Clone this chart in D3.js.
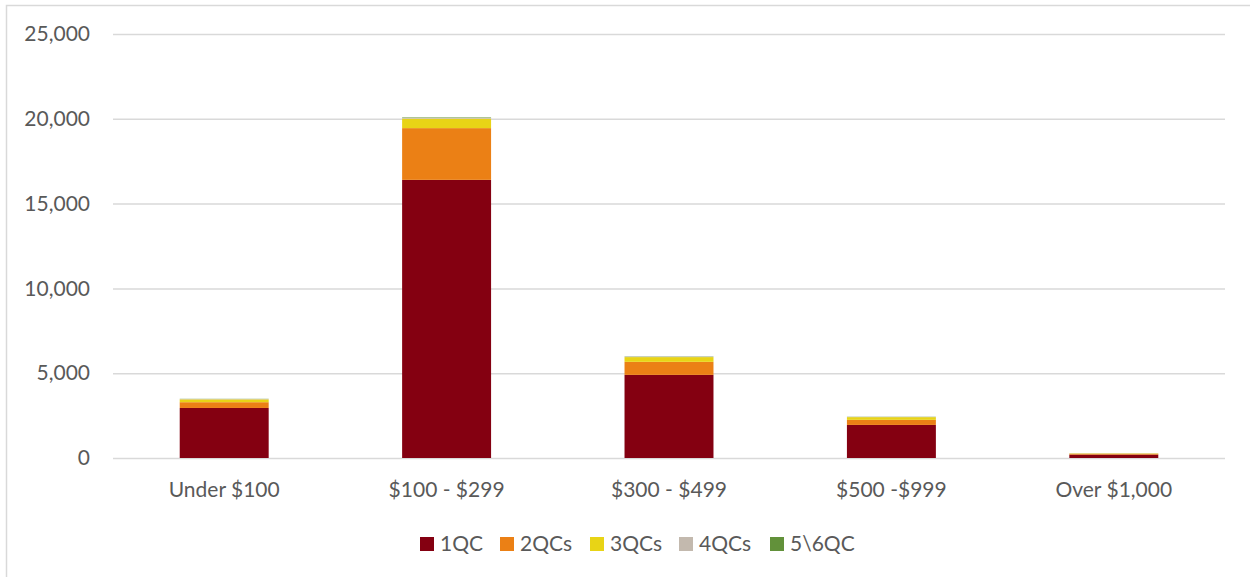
<!DOCTYPE html>
<html>
<head>
<meta charset="utf-8">
<script src="https://cdn.jsdelivr.net/npm/d3@7"></script>
<style>
  body { margin: 0; background: #fff; }
  svg { display: block; font-family: Lato, "Open Sans", sans-serif; }
</style>
</head>
<body>
<svg width="1250" height="577"></svg>
<script>
// price bands and the stacked counts per QC group
const categories = ["Under $100", "$100 - $299", "$300 - $499", "$500 -$999", "Over $1,000"];
const seriesNames = ["1QC", "2QCs", "3QCs", "4QCs", "5\\6QC"];
const qc1 = [2950, 16400, 4900, 1950, 200];
const qc2 = [340, 3050, 770, 300, 50];
const qc3 = [170, 560, 280, 160, 20];
const qc4 = [20, 40, 25, 15, 5];
const qc5 = [10, 30, 15, 10, 3];
const yTicks = [0, 5000, 10000, 15000, 20000, 25000];

const colors = ["#840011", "#eb8015", "#e8d416", "#c3b9ae", "#62913a"];

const svg = d3.select("svg");

// frame around the chart (right/bottom edges fall outside the picture)
svg.append("rect")
  .attr("x", 6.5).attr("y", 5.5)
  .attr("width", 1270).attr("height", 600)
  .attr("fill", "none")
  .attr("stroke", "#d9d9d9")
  .attr("stroke-width", 1.5);

const x = d3.scaleBand()
  .domain(categories)
  .range([113, 1225])
  .paddingInner(0.6)
  .paddingOuter(0.3);

const y = d3.scaleLinear()
  .domain([0, 25000])
  .range([458, 34]);

const rows = categories.map((c, i) => ({
  cat: c,
  "1QC": qc1[i], "2QCs": qc2[i], "3QCs": qc3[i], "4QCs": qc4[i], "5\\6QC": qc5[i]
}));

const stacked = d3.stack().keys(seriesNames)(rows);

// gridlines + y labels
const yAxis = svg.append("g")
  .attr("transform", "translate(113,0)")
  .call(d3.axisLeft(y)
    .tickValues(yTicks)
    .tickSize(-1112)
    .tickPadding(23)
    .tickFormat(d3.format(",")));
yAxis.select(".domain").remove();
yAxis.selectAll(".tick line").attr("stroke", "#d9d9d9").attr("stroke-width", 1.5);
yAxis.selectAll(".tick text")
  .attr("fill", "#595959")
  .attr("font-size", "21px")
  .attr("font-family", "Lato, 'Open Sans', sans-serif");

// stacked bars
svg.append("g")
  .selectAll("g")
  .data(stacked)
  .enter().append("g")
  .attr("fill", (d, i) => colors[i])
  .selectAll("rect")
  .data(d => d)
  .enter().append("rect")
  .attr("x", d => x(d.data.cat))
  .attr("y", d => y(d[1]))
  .attr("height", d => y(d[0]) - y(d[1]))
  .attr("width", x.bandwidth());

// category labels
svg.append("g")
  .selectAll("text")
  .data(categories)
  .enter().append("text")
  .attr("x", d => x(d) + x.bandwidth() / 2)
  .attr("y", 497)
  .attr("text-anchor", "middle")
  .attr("fill", "#595959")
  .attr("font-size", "21px")
  .text(d => d);

// legend
const legendX = [420, 500, 590, 679, 770];
const legend = svg.append("g")
  .selectAll("g")
  .data(seriesNames)
  .enter().append("g")
  .attr("transform", (d, i) => `translate(${legendX[i]},537)`);

legend.append("rect")
  .attr("width", 14).attr("height", 14)
  .attr("fill", (d, i) => colors[i]);

legend.append("text")
  .attr("x", 20)
  .attr("y", 14)
  .attr("fill", "#595959")
  .attr("font-size", "21px")
  .text(d => d);
</script>
</body>
</html>
